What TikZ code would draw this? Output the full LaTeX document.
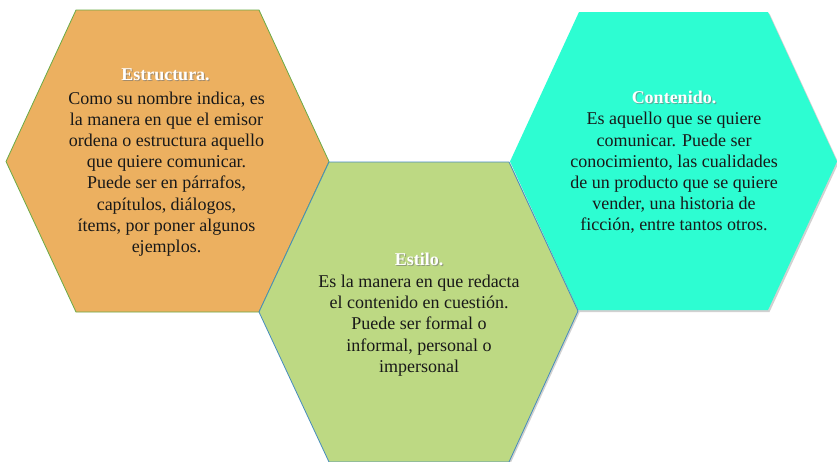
\documentclass[tikz,border=0pt]{standalone}
\usepackage{fontspec}
\setmainfont{Liberation Serif}
\definecolor{orangefill}{RGB}{236,176,96}
\definecolor{greenfill}{RGB}{189,217,131}
\definecolor{cyanfill}{RGB}{45,253,210}
\definecolor{orangeline}{RGB}{106,170,70}
\definecolor{greenline}{RGB}{70,140,190}
\tikzset{
  bodytext/.style={align=center, inner sep=0pt, text=black!90, font=\fontsize{18}{21.2}\selectfont},
  titletext/.style={inner sep=0pt, text=white, font=\fontsize{18}{21.2}\selectfont\bfseries},
  titleshadow/.style={inner sep=0pt, text=black!55, opacity=0.6, font=\fontsize{18}{21.2}\selectfont\bfseries},
  hexshadow/.style={fill=black!40, opacity=0.45}
}
\begin{document}
\begin{tikzpicture}[x=1pt,y=-1pt]
\useasboundingbox (0,0) rectangle (837,461);
\fill[white] (0,0) rectangle (837,461);
\clip (0,0) rectangle (837,461);
% orange hexagon
\path[fill=orangefill, draw=orangeline, line width=0.8pt]
  (76,10) -- (259,10) -- (329,161.5) -- (259,312) -- (76,312) -- (6,161.5) -- cycle;
% cyan hexagon with shadow
\path[hexshadow] (580.5,13.5) -- (769.5,13.5) -- (838.5,163) -- (769.5,312) -- (579.5,312) -- (511.5,163) -- cycle;
\path[fill=cyanfill]
  (579,12) -- (768,12) -- (837,161.5) -- (768,310) -- (578,310) -- (510,161.5) -- cycle;
% green hexagon with shadow
\path[hexshadow] (330.5,163.5) -- (510.5,163.5) -- (579.5,312.5) -- (510.5,463.5) -- (330.5,463.5) -- (260.5,313.5) -- cycle;
\path[fill=greenfill, draw=greenline, line width=0.8pt]
  (329,162) -- (509,162) -- (578,311) -- (509,462) -- (329,462) -- (259,312) -- cycle;
% texts
\node[titleshadow] at (166.5,76) {Estructura.};
\node[titletext] (t1) at (165.5,75) {Estructura.};
\node[bodytext] (b1) at (166.5,174) {Como su nombre indica, es\\la manera en que el emisor\\ordena o estructura aquello\\que quiere comunicar.\\Puede ser en párrafos,\\capítulos, diálogos,\\ítems, por poner algunos\\ejemplos.};
\node[titleshadow] at (420,260) {Estilo.};
\node[titletext] (t2) at (419,259) {Estilo.};
\node[bodytext] (b2) at (419,325.5) {Es la manera en que redacta\\el contenido en cuestión.\\Puede ser formal o\\informal, personal o\\impersonal};
\node[titleshadow] at (675,98) {Contenido.};
\node[titletext] (t3) at (674,97) {Contenido.};
\node[bodytext] (b3) at (674,173) {Es aquello que se quiere\\comunicar. Puede ser\\conocimiento, las cualidades\\de un producto que se quiere\\vender, una historia de\\ficción, entre tantos otros.};
\end{tikzpicture}
\end{document}
